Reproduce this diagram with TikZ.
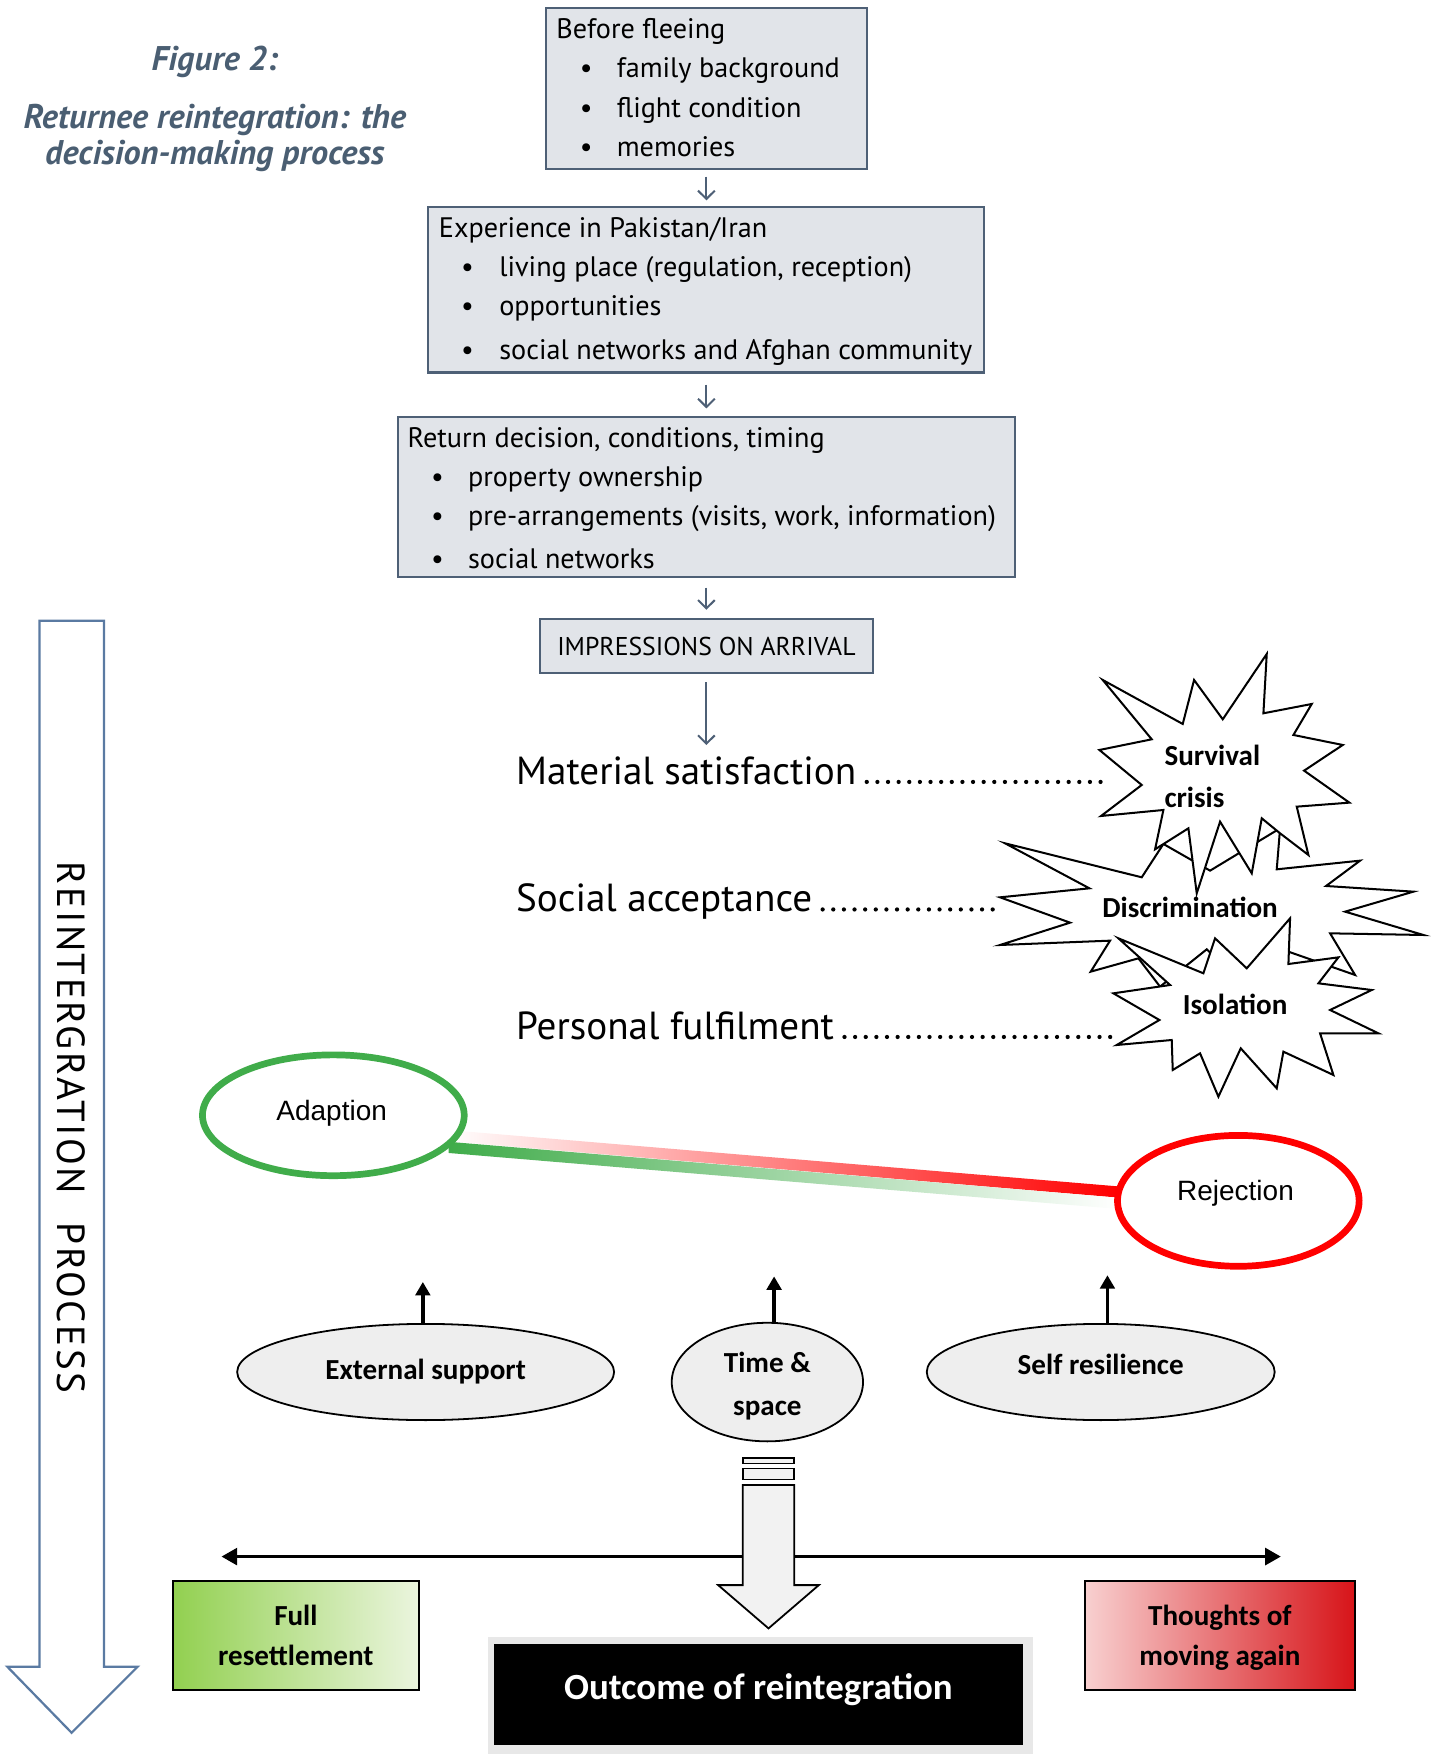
\documentclass[tikz,border=0pt]{standalone}
\usepackage{fontspec}
\setmainfont{PT Sans}
\newfontfamily\calfont{Carlito}
\newfontfamily\arfont{Liberation Sans}
\newfontfamily\spacedfont[LetterSpace=6.5]{PT Sans}
\usetikzlibrary{arrows.meta,calc,shapes.geometric}
\definecolor{boxfill}{RGB}{225,228,233}
\definecolor{boxline}{RGB}{78,96,118}
\definecolor{titlec}{RGB}{74,94,114}
\definecolor{arrline}{RGB}{90,122,162}
\definecolor{adgreen}{RGB}{64,172,74}
\definecolor{rejred}{RGB}{255,0,0}
\definecolor{ellfill}{RGB}{238,238,238}
\definecolor{fullgreen}{RGB}{146,208,80}
\definecolor{fulllight}{RGB}{235,245,222}
\definecolor{thlight}{RGB}{248,208,208}
\definecolor{thmid}{RGB}{238,165,165}
\definecolor{thred}{RGB}{215,20,25}
\definecolor{blockfill}{RGB}{242,242,242}
\definecolor{shadowgray}{RGB}{232,232,232}
\tikzset{
  infobox/.style={draw=boxline, fill=boxfill, line width=0.9pt, inner sep=0pt},
  boxtxt/.style={inner sep=0pt, anchor=mid west, font=\fontsize{12.6}{15}\selectfont},
  bul/.style={inner sep=0pt, anchor=mid, font=\fontsize{12.6}{15}\selectfont},
  flowarr/.style={draw=boxline, line width=0.9pt, -{Straight Barb[length=3.7pt,width=7.5pt]}},
  titletxt/.style={inner sep=0pt, text=titlec, align=center, font=\bfseries\itshape\fontsize{15.3}{16}\selectfont},
  bigtxt/.style={inner sep=0pt, anchor=base west, font=\fontsize{17.5}{20}\selectfont},
  dotline/.style={line width=1.9pt, line cap=round, dash pattern=on 0pt off 4.75pt},
  burst/.style={draw=black, fill=white, line width=0.9pt, line join=miter},
  calbold/.style={inner sep=0pt, font=\calfont\bfseries\fontsize{13}{15}\selectfont},
  ovaltxt/.style={inner sep=0pt, anchor=base, font=\arfont\fontsize{12.5}{15}\selectfont},
  bigoval/.style={ellipse, line width=3pt, fill=white, inner sep=0pt},
  factor/.style={ellipse, draw=black, line width=0.8pt, fill=ellfill, inner sep=0pt},
  uparr/.style={line width=1.5pt, -{Triangle[length=6pt,width=6.5pt]}},
  hdarr/.style={line width=1.5pt, {Triangle[length=7pt,width=7.5pt]}-{Triangle[length=7pt,width=7.5pt]}},
  endbox/.style={draw=black, line width=0.9pt, inner sep=0pt},
}
\begin{document}
\begin{tikzpicture}[x=0.5pt, y=-0.5pt]
\useasboundingbox (0,0) rectangle (1282,1568);

% title
\node[titletxt] (fig) at (192,55) {Figure 2:};
\node[titletxt] (figt) at (192,123) {Returnee reintegration: the\\decision-making process};

% flow boxes
\node[infobox, minimum width=143.5pt, minimum height=72pt] (b1) at (631.5,79) {};
\node[boxtxt] (b1h) at (497,29) {Before fleeing};
\node[bul] (b1a) at (524,64) {\textbullet};
\node[boxtxt] (b1at) at (551,64) {family background};
\node[bul] (b1b) at (524,100) {\textbullet};
\node[boxtxt] (b1bt) at (551,100) {flight condition};
\node[bul] (b1c) at (524,135) {\textbullet};
\node[boxtxt] (b1ct) at (551,135) {memories};

\node[infobox, minimum width=248.5pt, minimum height=74pt] (b2) at (631.5,259) {};
\node[boxtxt] (b2h) at (392,207) {Experience in Pakistan/Iran};
\node[bul] (b2a) at (418,242) {\textbullet};
\node[boxtxt] (b2at) at (446,242) {living place (regulation, reception)};
\node[bul] (b2b) at (418,277) {\textbullet};
\node[boxtxt] (b2bt) at (446,277) {opportunities};
\node[bul] (b2c) at (418,316) {\textbullet};
\node[boxtxt] (b2ct) at (446,316) {social networks and Afghan community};

\node[infobox, minimum width=275.5pt, minimum height=71.5pt] (b3) at (631.5,444.5) {};
\node[boxtxt] (b3h) at (364,395) {Return decision, conditions, timing};
\node[bul] (b3a) at (391,430) {\textbullet};
\node[boxtxt] (b3at) at (418,430) {property ownership};
\node[bul] (b3b) at (391,465) {\textbullet};
\node[boxtxt] (b3bt) at (418,465) {pre-arrangements (visits, work, information)};
\node[bul] (b3c) at (391,503) {\textbullet};
\node[boxtxt] (b3ct) at (418,503) {social networks};

\node[infobox, minimum width=148.5pt, minimum height=24.5pt, font=\fontsize{11.5}{14}\selectfont] (b4) at (631.5,577.5) {IMPRESSIONS ON ARRIVAL};

\coordinate (matarr) at (631.5,666);
\draw[flowarr] ($(b1.south)+(0,6)$) -- ($(b2.north)+(0,-5)$);
\draw[flowarr] ($(b2.south)+(0,10)$) -- ($(b3.north)+(0,-7)$);
\draw[flowarr] ($(b3.south)+(0,8.5)$) -- ($(b4.north)+(0,-7)$);
\draw[flowarr] ($(b4.south)+(0,7)$) -- (matarr);

% left process arrow
\draw[draw=arrline, line width=1pt, line join=miter, fill=white]
  (35.3,555) -- (93,555) -- (93,1490) -- (123,1490) -- (64,1549) -- (6.6,1490) -- (35.3,1490) -- cycle;
\node[inner sep=0pt, rotate=-90, font=\spacedfont\fontsize{17.5}{20}\selectfont] (proc) at (64,1008) {REINTERGRATION\hspace{13pt}PROCESS};

% bursts
\begin{scope}[shift={(894,572.1)}, x=0.149pt, y=-0.149pt]
\draw[burst] (15,610) -- (425,712) -- (490,612) -- (630,692) -- (840,565) -- (830,688) -- (1080,662) -- (978,738) -- (1240,755) -- (1035,815) -- (1270,885) -- (990,880) -- (1065,1005) -- (865,935) -- (760,1060) -- (620,928) -- (480,1040) -- (415,955) -- (272,995) -- (330,902) -- (0,915) -- (210,848) -- (0,772) -- (268,745) -- cycle;
\draw[burst] (308,120) -- (548,252) -- (582,120) -- (668,238) -- (800,42) -- (790,220) -- (935,192) -- (880,285) -- (1028,315) -- (912,392) -- (1048,488) -- (890,500) -- (925,645) -- (840,580) -- (785,535) -- (755,700) -- (660,545) -- (590,760) -- (565,565) -- (465,628) -- (490,510) -- (303,528) -- (425,435) -- (298,330) -- (455,298) -- cycle;
\draw[burst] (355,895) -- (610,1000) -- (645,895) -- (740,985) -- (870,835) -- (865,972) -- (1015,952) -- (955,1030) -- (1115,1050) -- (990,1110) -- (1135,1180) -- (960,1180) -- (1000,1305) -- (850,1235) -- (830,1345) -- (722,1225) -- (655,1370) -- (600,1240) -- (518,1290) -- (515,1200) -- (350,1215) -- (478,1140) -- (340,1060) -- (510,1035) -- cycle;
\end{scope}
\node[calbold, anchor=base west] (surv) at (1040.6,684.7) {Survival};
\node[calbold, anchor=base west] (crisis) at (1040.6,722) {crisis};
\node[calbold, anchor=base west] (disc) at (985,820.4) {Discrimination};
\node[calbold, anchor=base west] (isol) at (1057,906.5) {Isolation};

% dimensions
\node[bigtxt] (mat) at (461,701) {Material satisfaction};
\node[bigtxt] (soc) at (461,815) {Social acceptance};
\node[bigtxt] (pers) at (461,929) {Personal fulfilment};
\coordinate (matend) at (992,699);
\coordinate (socend) at (894,813);
\coordinate (persend) at (995,927);
\draw[dotline] ($(mat.base east)+(9,-2)$) -- (matend);
\draw[dotline] ($(soc.base east)+(9,-2)$) -- (socend);
\draw[dotline] ($(pers.base east)+(9,-2)$) -- (persend);

% gradient connection
\shade[left color=white, right color=rejred] (401,1010.2) -- (1000,1060.6) -- (1000,1070.6) -- (401,1020.2) -- cycle;
\shade[left color=adgreen, right color=white] (401,1020.7) -- (1000,1070.8) -- (1000,1080.8) -- (401,1030.7) -- cycle;

\node[bigoval, draw=adgreen, minimum width=117pt, minimum height=54pt] (adapt) at (298,997) {};
\node[bigoval, draw=rejred, minimum width=108pt, minimum height=58.5pt] (rej) at (1107,1073.5) {};
\node[ovaltxt] (adaptt) at (296.5,1001.5) {Adaption};
\node[ovaltxt] (rejt) at (1104.5,1073) {Rejection};

% factors
\node[factor, minimum width=168.5pt, minimum height=43pt] (ext) at (380.5,1226.5) {};
\node[factor, minimum width=85.5pt, minimum height=53pt] (time) at (686,1235.5) {};
\node[factor, minimum width=155.5pt, minimum height=43pt] (self) at (984,1226.5) {};
\node[calbold, anchor=base] (extt) at (380.5,1233) {External support};
\node[calbold, anchor=base] (timet1) at (686,1227) {Time \&};
\node[calbold, anchor=base] (timet2) at (686,1265) {space};
\node[calbold, anchor=base] (selft) at (984,1229) {Self resilience};

\coordinate (extup) at (378,1146);
\coordinate (timeup) at (692,1141);
\coordinate (selfup) at (990,1140);
\draw[uparr] (extup |- ext.north) -- (extup);
\draw[uparr] (timeup |- time.north) -- (timeup);
\draw[uparr] (selfup |- self.north) -- (selfup);

% outcome scale
\coordinate (hl) at (198,1391.5);
\coordinate (hr) at (1145,1391.5);
\draw[hdarr] (hl) -- (hr);

\draw[black, line width=0.8pt, fill=blockfill] (664,1303.1) rectangle (710,1308.2);
\draw[black, line width=0.8pt, fill=blockfill] (664,1312.7) rectangle (710,1322.5);
\draw[black, line width=0.8pt, fill=blockfill, line join=miter]
  (664,1327.6) -- (710,1327.6) -- (710,1417) -- (732,1417) -- (687,1455.7) -- (642,1417) -- (664,1417) -- cycle;

\shade[left color=fullgreen, right color=fulllight] (155,1413) rectangle (374.5,1511);
\draw[endbox] (155,1413) rectangle (374.5,1511);
\node[calbold, anchor=base] (fullt1) at (264.5,1453) {Full};
\node[calbold, anchor=base] (fullt2) at (264.5,1489) {resettlement};

\shade[left color=thlight, middle color=thmid, right color=thred] (970,1413) rectangle (1211,1511);
\draw[endbox] (970,1413) rectangle (1211,1511);
\node[calbold, anchor=base] (tht1) at (1090.5,1453) {Thoughts of};
\node[calbold, anchor=base] (tht2) at (1090.5,1489) {moving again};

\fill[shadowgray] (436,1463) rectangle (923,1568);
\node[fill=black, draw=shadowgray, line width=0.5pt, minimum width=237pt, minimum height=45.5pt, inner sep=0pt] (outc) at (678,1514.5) {};
\node[inner sep=0pt, anchor=base, text=white, font=\calfont\bfseries\fontsize{16.5}{19}\selectfont] (outct) at (678,1519) {Outcome of reintegration};
\end{tikzpicture}
\end{document}
